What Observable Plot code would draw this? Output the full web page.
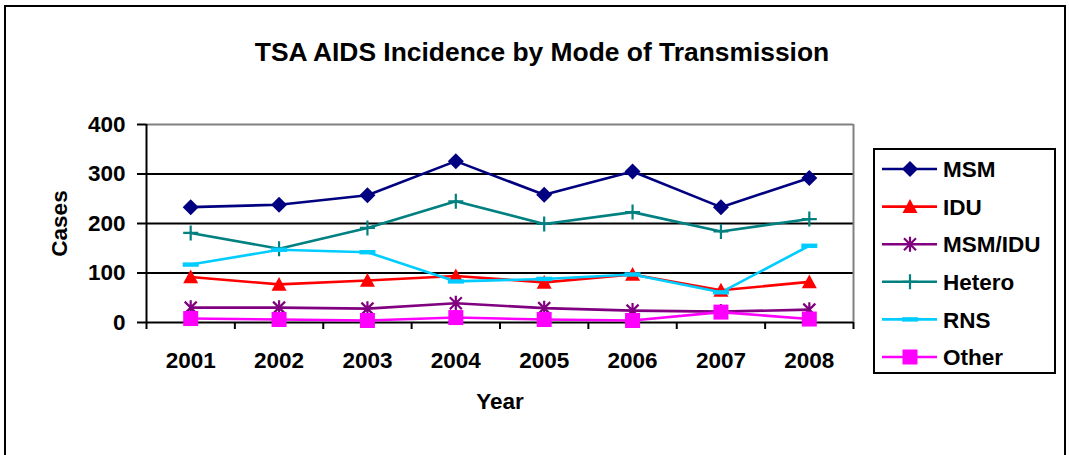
<!DOCTYPE html>
<html><head><meta charset="utf-8">
<script src="https://cdn.jsdelivr.net/npm/d3@7"></script>
<script src="https://cdn.jsdelivr.net/npm/@observablehq/plot@0.6"></script>
<style>
body{margin:0;background:#fff;}
#wrap{position:relative;width:1069px;height:455px;overflow:hidden;font-family:"Liberation Sans",Arial,sans-serif;background:#fff;}
#wrap svg.plot{position:absolute;left:0;top:0;}
#frame{position:absolute;left:4px;top:5px;width:1058px;height:520px;border:2px solid #000;pointer-events:none;}
#legend{position:absolute;left:873px;top:148px;width:179px;height:222px;border:2px solid #000;background:#fff;}
</style></head><body><div id="wrap"><div id="frame"></div></div>
<script>
const years = [2001, 2002, 2003, 2004, 2005, 2006, 2007, 2008];
const seriesNames = ["MSM", "IDU", "MSM/IDU", "Hetero", "RNS", "Other"];
const msm    = [233, 238, 257, 326, 258, 305, 233, 292];
const idu    = [92, 77, 85, 94, 81, 97, 65, 82];
const msmIdu = [30, 30, 28, 39, 29, 24, 22, 26];
const hetero = [181, 149, 191, 245, 199, 223, 184, 209];
const rns    = [117, 147, 142, 83, 88, 97, 61, 155];
const other  = [8, 6, 4, 10, 6, 4, 21, 7];
const yTicks = [0, 100, 200, 300, 400];
const colors = ["#000080", "#FF0000", "#800080", "#008080", "#00CCFF", "#FF00FF"];
const title = "TSA AIDS Incidence by Mode of Transmission";
const xTitle = "Year";
const yTitle = "Cases";

const values = [msm, idu, msmIdu, hetero, rns, other];
const rows = seriesNames.map((name, s) => years.map((year, i) => ({series: name, year, value: values[s][i]})));

const R = k => Math.sqrt(k / Math.PI);
const symDiamond = {draw(c, k){const r = R(k); c.moveTo(0,-r); c.lineTo(r,0); c.lineTo(0,r); c.lineTo(-r,0); c.closePath();}};
const symTriangle = {draw(c, k){const r = R(k); c.moveTo(0,-r); c.lineTo(r,0.85*r); c.lineTo(-r,0.85*r); c.closePath();}};
const symStar = {draw(c, k){const r = R(k); c.moveTo(0,-r); c.lineTo(0,r); c.moveTo(-0.8*r,-0.8*r); c.lineTo(0.8*r,0.8*r); c.moveTo(-0.8*r,0.8*r); c.lineTo(0.8*r,-0.8*r);}};
const symPlus = {draw(c, k){const r = R(k); c.moveTo(0,-r); c.lineTo(0,r); c.moveTo(-r,0); c.lineTo(r,0);}};
const symDash = {draw(c, k){const r = R(k); c.rect(-r,-2.2,2*r,4.4);}};
const symSquare = {draw(c, k){const r = R(k); c.rect(-r,-r,2*r,2*r);}};
const symbols = [symDiamond, symTriangle, symStar, symPlus, symDash, symSquare];
const filled = [true, true, false, false, true, true];
const radii = [8, 7.5, 7.5, 7.5, 8, 7.5];

const x0 = years[0] - 0.5, x1 = years[years.length - 1] + 0.5;
const bounds = d3.range(years.length + 1).map(i => x0 + i);

const marks = [
  Plot.ruleY(yTicks.slice(1, -1), {stroke: "#000", strokeWidth: 2}),
  Plot.ruleY([yTicks[yTicks.length - 1]], {stroke: "#808080", strokeWidth: 2}),
  Plot.ruleX([x1], {stroke: "#808080", strokeWidth: 2}),
  Plot.ruleX([x0], {stroke: "#000", strokeWidth: 2}),
  Plot.ruleY([0], {stroke: "#000", strokeWidth: 2}),
  Plot.axisY({ticks: yTicks, tickSize: 9, tickPadding: 12, strokeWidth: 2, stroke: "#000", fill: "#000", fontSize: 22.5, fontWeight: "bold", label: null}),
  Plot.axisX({ticks: bounds, tickSize: 7, strokeWidth: 2, stroke: "#000", tickFormat: () => "", label: null}),
  Plot.axisX({ticks: years, tickSize: 0, tickPadding: 29.4, fill: "#000", fontSize: 22.5, fontWeight: "bold", tickFormat: d => String(d), label: null})
];
rows.forEach((data, s) => {
  marks.push(Plot.line(data, {x: "year", y: "value", stroke: colors[s], strokeWidth: 2.6}));
});
rows.forEach((data, s) => {
  marks.push(Plot.dot(data, {x: "year", y: "value", symbol: symbols[s], r: radii[s],
    fill: filled[s] ? colors[s] : "none", stroke: filled[s] ? "none" : colors[s], strokeWidth: 2.2}));
});
marks.push(Plot.text([title], {frameAnchor: "top", dx: 42, dy: -72.4, fontSize: 26.4, fontWeight: "bold", fill: "#000", lineAnchor: "middle", textAnchor: "middle"}));
marks.push(Plot.text([xTitle], {frameAnchor: "bottom", dy: 79, fontSize: 22.5, fontWeight: "bold", fill: "#000", lineAnchor: "middle", textAnchor: "middle"}));
marks.push(Plot.text([yTitle], {frameAnchor: "left", dx: -87, rotate: -90, fontSize: 22.5, fontWeight: "bold", fill: "#000", lineAnchor: "middle", textAnchor: "middle"}));

const chart = Plot.plot({
  width: 1069, height: 455,
  marginLeft: 146, marginRight: 216, marginTop: 124, marginBottom: 133,
  x: {type: "linear", domain: [x0, x1], axis: null},
  y: {type: "linear", domain: [yTicks[0], yTicks[yTicks.length - 1]], axis: null},
  style: {fontFamily: '"Liberation Sans", Arial, sans-serif', fontSize: "22.5px", fontWeight: "bold", color: "#000", background: "transparent", overflow: "visible"},
  marks
});
chart.classList.add("plot");
const wrap = document.getElementById("wrap");
wrap.insertBefore(chart, document.getElementById("frame"));

// Legend
const legend = document.createElement("div");
legend.id = "legend";
wrap.appendChild(legend);
const lsvg = d3.select(legend).append("svg").attr("width", 179).attr("height", 222).style("position", "absolute").style("left", "0").style("top", "0");
seriesNames.forEach((name, s) => {
  const cy = 19 + s * 37.6;
  const g = lsvg.append("g").attr("transform", `translate(0,${cy})`);
  g.append("line").attr("x1", 7).attr("x2", 62).attr("y1", 0).attr("y2", 0).attr("stroke", colors[s]).attr("stroke-width", 2.6);
  const p = d3.path();
  symbols[s].draw(p, Math.PI * radii[s] * radii[s]);
  g.append("path").attr("d", p.toString()).attr("transform", "translate(35,0)")
    .attr("fill", filled[s] ? colors[s] : "none").attr("stroke", filled[s] ? "none" : colors[s]).attr("stroke-width", 2.2);
  g.append("text").attr("x", 68).attr("y", 0).attr("dy", "0.36em").text(name)
    .style("font-family", '"Liberation Sans", Arial, sans-serif').style("font-size", "22.5px").style("font-weight", "bold").attr("fill", "#000");
});
</script></body></html>
